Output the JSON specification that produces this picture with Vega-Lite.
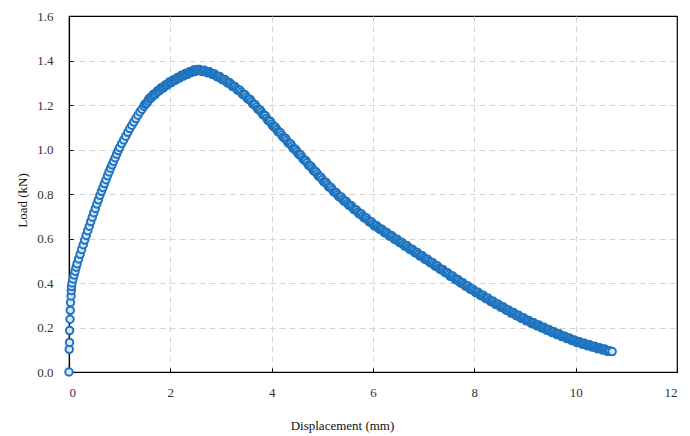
{
  "$schema": "https://vega.github.io/schema/vega-lite/v6.json",
  "width": 608,
  "height": 356,
  "autosize": {"type": "none"},
  "padding": {"left": 69, "top": 16, "right": 13, "bottom": 64},
  "background": "white",
  "config": {
    "font": "Liberation Serif",
    "view": {"stroke": "#000000", "strokeWidth": 1.2}
  },
  "data": {"values": [
    {"disp":0,"load":0},{"disp":0.005,"load":0.102},{"disp":0.01,"load":0.133},{"disp":0.012,"load":0.186},{"disp":0.02,"load":0.237},{"disp":0.025,"load":0.277},{"disp":0.03,"load":0.312},{"disp":0.04,"load":0.342},{"disp":0.045,"load":0.366},{"disp":0.05,"load":0.384},{"disp":0.06,"load":0.4},
    {"disp":0.08,"load":0.418},{"disp":0.1,"load":0.436},{"disp":0.12,"load":0.453},{"disp":0.14,"load":0.471},{"disp":0.16,"load":0.487},{"disp":0.19,"load":0.508},{"disp":0.22,"load":0.529},{"disp":0.25,"load":0.551},{"disp":0.28,"load":0.572},{"disp":0.31,"load":0.593},{"disp":0.34,"load":0.614},{"disp":0.37,"load":0.635},{"disp":0.4,"load":0.655},{"disp":0.43,"load":0.676},{"disp":0.46,"load":0.696},{"disp":0.49,"load":0.716},{"disp":0.52,"load":0.735},{"disp":0.55,"load":0.755},{"disp":0.58,"load":0.774},{"disp":0.61,"load":0.794},{"disp":0.64,"load":0.812},{"disp":0.67,"load":0.829},{"disp":0.7,"load":0.847},{"disp":0.73,"load":0.864},{"disp":0.76,"load":0.882},{"disp":0.79,"load":0.899},{"disp":0.82,"load":0.916},{"disp":0.85,"load":0.931},{"disp":0.88,"load":0.947},{"disp":0.91,"load":0.963},{"disp":0.94,"load":0.979},{"disp":0.97,"load":0.995},{"disp":1.0,"load":1.009},
    {"disp":1.04,"load":1.027},{"disp":1.08,"load":1.043},{"disp":1.12,"load":1.06},{"disp":1.16,"load":1.077},{"disp":1.2,"load":1.094},{"disp":1.24,"load":1.109},{"disp":1.28,"load":1.124},{"disp":1.32,"load":1.139},{"disp":1.36,"load":1.154},{"disp":1.4,"load":1.169},{"disp":1.44,"load":1.181},{"disp":1.48,"load":1.194},{"disp":1.52,"load":1.206},{"disp":1.56,"load":1.219},{"disp":1.6,"load":1.231},{"disp":1.64,"load":1.239},{"disp":1.68,"load":1.247},{"disp":1.72,"load":1.255},{"disp":1.76,"load":1.263},{"disp":1.8,"load":1.271},{"disp":1.84,"load":1.277},{"disp":1.88,"load":1.283},{"disp":1.92,"load":1.289},{"disp":1.96,"load":1.296},{"disp":2.0,"load":1.302},{"disp":2.04,"load":1.307},{"disp":2.08,"load":1.312},{"disp":2.12,"load":1.317},{"disp":2.16,"load":1.322},{"disp":2.2,"load":1.327},{"disp":2.24,"load":1.332},{"disp":2.28,"load":1.336},{"disp":2.32,"load":1.34},{"disp":2.36,"load":1.344},{"disp":2.4,"load":1.348},{"disp":2.44,"load":1.351},{"disp":2.48,"load":1.354},{"disp":2.52,"load":1.355},
    {"disp":2.55,"load":1.356},{"disp":2.6,"load":1.355},{"disp":2.65,"load":1.353},{"disp":2.7,"load":1.35},{"disp":2.75,"load":1.347},{"disp":2.8,"load":1.343},{"disp":2.85,"load":1.338},{"disp":2.9,"load":1.332},{"disp":2.95,"load":1.327},{"disp":3.0,"load":1.321},
    {"disp":3.05,"load":1.314},{"disp":3.1,"load":1.307},{"disp":3.15,"load":1.299},{"disp":3.2,"load":1.292},{"disp":3.25,"load":1.283},{"disp":3.3,"load":1.275},{"disp":3.35,"load":1.266},{"disp":3.4,"load":1.257},{"disp":3.45,"load":1.247},{"disp":3.5,"load":1.236},{"disp":3.55,"load":1.226},{"disp":3.6,"load":1.215},{"disp":3.65,"load":1.203},{"disp":3.7,"load":1.191},{"disp":3.75,"load":1.179},{"disp":3.8,"load":1.167},{"disp":3.85,"load":1.154},{"disp":3.9,"load":1.141},{"disp":3.95,"load":1.128},{"disp":4.0,"load":1.115},
    {"disp":4.05,"load":1.102},{"disp":4.1,"load":1.09},{"disp":4.15,"load":1.077},{"disp":4.2,"load":1.065},{"disp":4.25,"load":1.052},{"disp":4.3,"load":1.04},{"disp":4.35,"load":1.027},{"disp":4.4,"load":1.015},{"disp":4.45,"load":1.002},{"disp":4.5,"load":0.99},{"disp":4.55,"load":0.977},{"disp":4.6,"load":0.965},{"disp":4.65,"load":0.952},{"disp":4.7,"load":0.94},{"disp":4.75,"load":0.927},{"disp":4.8,"load":0.915},{"disp":4.85,"load":0.902},{"disp":4.9,"load":0.89},{"disp":4.95,"load":0.877},{"disp":5.0,"load":0.865},
    {"disp":5.05,"load":0.853},{"disp":5.1,"load":0.842},{"disp":5.15,"load":0.83},{"disp":5.2,"load":0.819},{"disp":5.25,"load":0.807},{"disp":5.3,"load":0.797},{"disp":5.35,"load":0.787},{"disp":5.4,"load":0.777},{"disp":5.45,"load":0.767},{"disp":5.5,"load":0.757},{"disp":5.55,"load":0.748},{"disp":5.6,"load":0.738},{"disp":5.65,"load":0.729},{"disp":5.7,"load":0.719},{"disp":5.75,"load":0.71},{"disp":5.8,"load":0.701},{"disp":5.85,"load":0.692},{"disp":5.9,"load":0.683},{"disp":5.95,"load":0.674},{"disp":6.0,"load":0.665},
    {"disp":6.05,"load":0.657},{"disp":6.1,"load":0.649},{"disp":6.15,"load":0.642},{"disp":6.2,"load":0.634},{"disp":6.25,"load":0.626},{"disp":6.3,"load":0.619},{"disp":6.35,"load":0.611},{"disp":6.4,"load":0.604},{"disp":6.45,"load":0.596},{"disp":6.5,"load":0.589},{"disp":6.55,"load":0.581},{"disp":6.6,"load":0.574},{"disp":6.65,"load":0.566},{"disp":6.7,"load":0.559},{"disp":6.75,"load":0.551},{"disp":6.8,"load":0.544},{"disp":6.85,"load":0.536},{"disp":6.9,"load":0.529},{"disp":6.95,"load":0.521},{"disp":7.0,"load":0.514},
    {"disp":7.05,"load":0.506},{"disp":7.1,"load":0.499},{"disp":7.15,"load":0.491},{"disp":7.2,"load":0.484},{"disp":7.25,"load":0.476},{"disp":7.3,"load":0.468},{"disp":7.35,"load":0.461},{"disp":7.4,"load":0.453},{"disp":7.45,"load":0.446},{"disp":7.5,"load":0.438},{"disp":7.55,"load":0.43},{"disp":7.6,"load":0.423},{"disp":7.65,"load":0.415},{"disp":7.7,"load":0.408},{"disp":7.75,"load":0.4},{"disp":7.8,"load":0.393},{"disp":7.85,"load":0.386},{"disp":7.9,"load":0.378},{"disp":7.95,"load":0.371},{"disp":8.0,"load":0.364},
    {"disp":8.05,"load":0.357},{"disp":8.1,"load":0.35},{"disp":8.15,"load":0.344},{"disp":8.2,"load":0.337},{"disp":8.25,"load":0.33},{"disp":8.3,"load":0.323},{"disp":8.35,"load":0.317},{"disp":8.4,"load":0.31},{"disp":8.45,"load":0.304},{"disp":8.5,"load":0.297},{"disp":8.55,"load":0.291},{"disp":8.6,"load":0.285},{"disp":8.65,"load":0.278},{"disp":8.7,"load":0.272},{"disp":8.75,"load":0.266},{"disp":8.8,"load":0.26},{"disp":8.85,"load":0.254},{"disp":8.9,"load":0.248},{"disp":8.95,"load":0.242},{"disp":9.0,"load":0.236},
    {"disp":9.05,"load":0.231},{"disp":9.1,"load":0.225},{"disp":9.15,"load":0.22},{"disp":9.2,"load":0.214},{"disp":9.25,"load":0.209},{"disp":9.3,"load":0.204},{"disp":9.35,"load":0.199},{"disp":9.4,"load":0.194},{"disp":9.45,"load":0.189},{"disp":9.5,"load":0.184},{"disp":9.55,"load":0.179},{"disp":9.6,"load":0.174},{"disp":9.65,"load":0.17},{"disp":9.7,"load":0.165},{"disp":9.75,"load":0.16},{"disp":9.8,"load":0.156},{"disp":9.85,"load":0.151},{"disp":9.9,"load":0.147},{"disp":9.95,"load":0.142},{"disp":10.0,"load":0.138},
    {"disp":10.05,"load":0.134},{"disp":10.1,"load":0.131},{"disp":10.15,"load":0.127},{"disp":10.2,"load":0.124},{"disp":10.25,"load":0.12},{"disp":10.3,"load":0.117},{"disp":10.35,"load":0.114},{"disp":10.4,"load":0.11},{"disp":10.45,"load":0.107},{"disp":10.5,"load":0.104},{"disp":10.55,"load":0.101},{"disp":10.6,"load":0.098},{"disp":10.65,"load":0.096},
    {"disp":1.5,"load":1.204},{"disp":1.54,"load":1.209},{"disp":1.58,"load":1.229},{"disp":1.62,"load":1.231},{"disp":1.66,"load":1.247},{"disp":1.7,"load":1.247},{"disp":1.74,"load":1.263},{"disp":1.78,"load":1.263},{"disp":1.82,"load":1.278},{"disp":1.86,"load":1.276},{"disp":1.9,"load":1.29},{"disp":1.94,"load":1.289},{"disp":1.98,"load":1.303},{"disp":2.02,"load":1.301},{"disp":2.06,"load":1.314},{"disp":2.1,"load":1.311},{"disp":2.14,"load":1.324},{"disp":2.18,"load":1.321},{"disp":2.22,"load":1.334},{"disp":2.26,"load":1.33},{"disp":2.3,"load":1.342},{"disp":2.34,"load":1.338},{"disp":2.38,"load":1.35},{"disp":2.42,"load":1.346},{"disp":2.46,"load":1.357},{"disp":2.5,"load":1.351},{"disp":2.535,"load":1.36},
    {"disp":2.575,"load":1.36},{"disp":2.625,"load":1.35},{"disp":2.675,"load":1.356},{"disp":2.725,"load":1.345},{"disp":2.775,"load":1.349},{"disp":2.825,"load":1.337},{"disp":2.875,"load":1.339},{"disp":2.925,"load":1.326},{"disp":2.975,"load":1.328},{"disp":3.025,"load":1.314},{"disp":3.075,"load":1.315},{"disp":3.125,"load":1.299},{"disp":3.175,"load":1.3},{"disp":3.225,"load":1.284},{"disp":3.275,"load":1.283},{"disp":3.325,"load":1.267},{"disp":3.375,"load":1.266},{"disp":3.425,"load":1.248},{"disp":3.475,"load":1.246},{"disp":3.525,"load":1.227},{"disp":3.575,"load":1.225},{"disp":3.625,"load":1.205},{"disp":3.675,"load":1.201},{"disp":3.725,"load":1.181},{"disp":3.775,"load":1.177},{"disp":3.825,"load":1.157},{"disp":3.875,"load":1.152},{"disp":3.925,"load":1.131},{"disp":3.975,"load":1.126},
    {"disp":4.025,"load":1.105},{"disp":4.075,"load":1.1},{"disp":4.125,"load":1.08},{"disp":4.175,"load":1.075},{"disp":4.225,"load":1.055},{"disp":4.275,"load":1.05},{"disp":4.325,"load":1.03},{"disp":4.375,"load":1.025},{"disp":4.425,"load":1.005},{"disp":4.475,"load":1.0},{"disp":4.525,"load":0.98},{"disp":4.575,"load":0.975},{"disp":4.625,"load":0.955},{"disp":4.675,"load":0.95},{"disp":4.725,"load":0.93},{"disp":4.775,"load":0.925},{"disp":4.825,"load":0.905},{"disp":4.875,"load":0.9},{"disp":4.925,"load":0.88},{"disp":4.975,"load":0.875},
    {"disp":5.025,"load":0.855},{"disp":5.075,"load":0.852},{"disp":5.125,"load":0.832},{"disp":5.175,"load":0.829},{"disp":5.225,"load":0.809},{"disp":5.275,"load":0.806},{"disp":5.325,"load":0.788},{"disp":5.375,"load":0.786},{"disp":5.425,"load":0.768},{"disp":5.475,"load":0.766},{"disp":5.525,"load":0.749},{"disp":5.575,"load":0.747},{"disp":5.625,"load":0.73},{"disp":5.675,"load":0.728},{"disp":5.725,"load":0.711},{"disp":5.775,"load":0.71},{"disp":5.825,"load":0.693},{"disp":5.875,"load":0.692},{"disp":5.925,"load":0.675},{"disp":5.975,"load":0.674},
    {"disp":6.025,"load":0.657},{"disp":6.075,"load":0.657},{"disp":6.125,"load":0.642},{"disp":6.175,"load":0.642},{"disp":6.225,"load":0.626},{"disp":6.275,"load":0.627},{"disp":6.325,"load":0.611},{"disp":6.375,"load":0.612},{"disp":6.425,"load":0.596},{"disp":6.475,"load":0.597},{"disp":6.525,"load":0.581},{"disp":6.575,"load":0.582},{"disp":6.625,"load":0.566},{"disp":6.675,"load":0.567},{"disp":6.725,"load":0.551},{"disp":6.775,"load":0.552},{"disp":6.825,"load":0.536},{"disp":6.875,"load":0.537},{"disp":6.925,"load":0.521},{"disp":6.975,"load":0.522},
    {"disp":7.025,"load":0.506},{"disp":7.075,"load":0.507},{"disp":7.125,"load":0.491},{"disp":7.175,"load":0.492},{"disp":7.225,"load":0.476},{"disp":7.275,"load":0.476},{"disp":7.325,"load":0.461},{"disp":7.375,"load":0.461},{"disp":7.425,"load":0.446},{"disp":7.475,"load":0.446},{"disp":7.525,"load":0.43},{"disp":7.575,"load":0.431},{"disp":7.625,"load":0.415},{"disp":7.675,"load":0.416},{"disp":7.725,"load":0.4},{"disp":7.775,"load":0.401},{"disp":7.825,"load":0.386},{"disp":7.875,"load":0.386},{"disp":7.925,"load":0.371},{"disp":7.975,"load":0.372},
    {"disp":8.025,"load":0.357},{"disp":8.075,"load":0.358},{"disp":8.125,"load":0.343},{"disp":8.175,"load":0.345},{"disp":8.225,"load":0.33},{"disp":8.275,"load":0.331},{"disp":8.325,"load":0.316},{"disp":8.375,"load":0.318},{"disp":8.425,"load":0.303},{"disp":8.475,"load":0.305},{"disp":8.525,"load":0.29},{"disp":8.575,"load":0.292},{"disp":8.625,"load":0.278},{"disp":8.675,"load":0.279},{"disp":8.725,"load":0.265},{"disp":8.775,"load":0.267},{"disp":8.825,"load":0.253},{"disp":8.875,"load":0.255},{"disp":8.925,"load":0.241},{"disp":8.975,"load":0.243},
    {"disp":9.025,"load":0.23},{"disp":9.075,"load":0.232},{"disp":9.125,"load":0.219},{"disp":9.175,"load":0.221},{"disp":9.225,"load":0.208},{"disp":9.275,"load":0.211},{"disp":9.325,"load":0.198},{"disp":9.375,"load":0.201},{"disp":9.425,"load":0.188},{"disp":9.475,"load":0.191},{"disp":9.525,"load":0.178},{"disp":9.575,"load":0.181},{"disp":9.625,"load":0.168},{"disp":9.675,"load":0.172},{"disp":9.725,"load":0.159},{"disp":9.775,"load":0.162},{"disp":9.825,"load":0.15},{"disp":9.875,"load":0.153},{"disp":9.925,"load":0.141},{"disp":9.975,"load":0.144},
    {"disp":10.025,"load":0.132},{"disp":10.075,"load":0.136},{"disp":10.125,"load":0.125},{"disp":10.175,"load":0.129},{"disp":10.225,"load":0.118},{"disp":10.275,"load":0.122},{"disp":10.325,"load":0.112},{"disp":10.375,"load":0.116},{"disp":10.425,"load":0.105},{"disp":10.475,"load":0.109},{"disp":10.525,"load":0.099},{"disp":10.575,"load":0.103},{"disp":10.625,"load":0.093},{"disp":10.68,"load":0.094},
    {"disp":10.72,"load":0.092}
  ]},
  "mark": {"type": "point", "shape": "circle", "size": 56, "filled": false, "fill": "#d8e8f6", "fillOpacity": 1, "stroke": "#1f74bf", "strokeWidth": 2, "opacity": 1},
  "encoding": {
    "order": {"field": "disp", "type": "quantitative", "sort": "ascending"},
    "x": {
      "field": "disp", "type": "quantitative",
      "scale": {"domain": [0, 12], "nice": false, "zero": false},
      "axis": {
        "values": [0, 2, 4, 6, 8, 10, 12],
        "title": "Displacement (mm)",
        "titleFont": "Liberation Serif", "titleFontSize": 13, "titleFontWeight": "normal", "titleColor": "#111111",
        "titleX": 273, "titleY": 53, "titleAlign": "center", "titleBaseline": "middle", "titleAnchor": null,
        "labelFont": "Liberation Serif", "labelFontSize": 13, "labelColor": "#333333", "labelPadding": 18,
        "domainColor": "#000000", "domainWidth": 1.2,
        "tickSize": -4, "tickColor": "#000000", "tickWidth": 1,
        "grid": true, "gridDash": [6, 4], "gridWidth": 1,
        "gridColor": {"condition": {"test": "datum.value >= 12 || datum.value <= 0", "value": "transparent"}, "value": "#d4d4d4"}
      }
    },
    "y": {
      "field": "load", "type": "quantitative",
      "scale": {"domain": [0, 1.6], "nice": false, "zero": true},
      "axis": {
        "values": [0, 0.2, 0.4, 0.6, 0.8, 1.0, 1.2, 1.4, 1.6],
        "format": ".1f",
        "title": "Load (kN)",
        "titleFont": "Liberation Serif", "titleFontSize": 13, "titleFontWeight": "normal", "titleColor": "#111111",
        "titleX": -47, "titleY": 184, "titleAngle": -90, "titleAlign": "center", "titleBaseline": "middle", "titleAnchor": null,
        "labelFont": "Liberation Serif", "labelFontSize": 13, "labelColor": "#333333", "labelPadding": 20,
        "domainColor": "#000000", "domainWidth": 1.2,
        "tickSize": -4, "tickColor": "#000000", "tickWidth": 1,
        "grid": true, "gridDash": [6, 4], "gridWidth": 1,
        "gridColor": {"condition": {"test": "datum.value >= 1.6 || datum.value <= 0", "value": "transparent"}, "value": "#d4d4d4"}
      }
    }
  }
}
